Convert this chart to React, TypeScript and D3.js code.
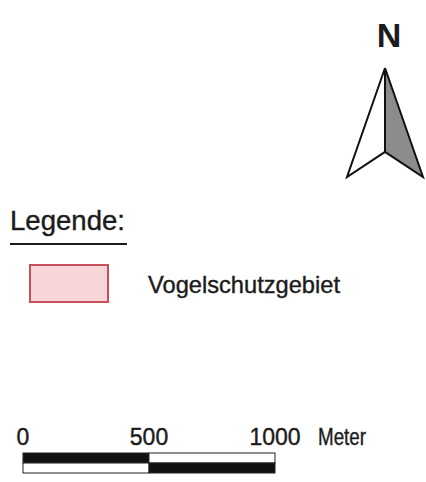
import { useEffect, useRef } from "react";
import * as d3 from "d3";

const LEGEND_TITLE = "Legende:";
const LEGEND_ITEMS = ["Vogelschutzgebiet"];
const LEGEND_FILLS = ["#f6d6d9"];
const LEGEND_STROKES = ["#c9505a"];
const SCALE_TICKS = [0, 500, 1000];
const SCALE_UNIT = "Meter";
const NORTH_LABEL = "N";

const FONT = "'Liberation Sans', Arial, sans-serif";
const INK = "#1c1c1c";

export default function App() {
  const ref = useRef<SVGSVGElement>(null);

  useEffect(() => {
    if (!ref.current) return;
    const w = 426;
    const h = 482;
    const svg = d3.select(ref.current);
    svg.selectAll("*").remove();
    svg.attr("width", w).attr("height", h).attr("viewBox", `0 0 ${w} ${h}`);
    svg.append("rect").attr("width", w).attr("height", h).attr("fill", "#fff");

    const txt = (x: number, y: number, size: number, s: string) =>
      svg
        .append("text")
        .attr("x", x)
        .attr("y", y)
        .attr("font-family", FONT)
        .attr("font-size", size)
        .attr("fill", INK)
        .attr("stroke", INK)
        .attr("stroke-width", 0.4)
        .text(s);

    // north arrow, unit shape mapped onto the page by two scales
    const ax = d3.scaleLinear().domain([-1, 1]).range([347, 423]);
    const ay = d3.scaleLinear().domain([0, 1]).range([68, 177]);
    const line = d3
      .line<[number, number]>()
      .x((d) => ax(d[0]))
      .y((d) => ay(d[1]));
    const leftHalf: [number, number][] = [[0, 0], [-1, 1], [0, 0.77], [0, 0]];
    const rightHalf: [number, number][] = [[0, 0], [0, 0.77], [1, 1], [0, 0]];
    svg.append("path").attr("d", line(leftHalf)!).attr("fill", "#fff").attr("stroke", "#111").attr("stroke-width", 2);
    svg.append("path").attr("d", line(rightHalf)!).attr("fill", "#8c8c8c").attr("stroke", "#111").attr("stroke-width", 2);
    txt(ax(0) + 4, 47, 34, NORTH_LABEL).attr("text-anchor", "middle").attr("font-weight", "bold").attr("stroke-width", 0);

    // legend
    txt(10, 230, 28, LEGEND_TITLE).attr("textLength", 115).attr("lengthAdjust", "spacingAndGlyphs");
    svg.append("line").attr("x1", 10).attr("x2", 127).attr("y1", 244).attr("y2", 244).attr("stroke", INK).attr("stroke-width", 2);

    const ly = d3.scaleBand().domain(LEGEND_ITEMS).range([265, 302]);
    LEGEND_ITEMS.forEach((item, i) => {
      const y0 = ly(item)!;
      svg
        .append("rect")
        .attr("x", 30)
        .attr("y", y0)
        .attr("width", 78)
        .attr("height", ly.bandwidth())
        .attr("fill", LEGEND_FILLS[i])
        .attr("stroke", LEGEND_STROKES[i])
        .attr("stroke-width", 2);
      txt(148, y0 + ly.bandwidth() / 2 + 9.5, 24, item).attr("textLength", 192).attr("lengthAdjust", "spacingAndGlyphs");
    });

    // scale bar
    const sx = d3.scaleLinear().domain([SCALE_TICKS[0], SCALE_TICKS[SCALE_TICKS.length - 1]]).range([23, 275]);
    const barTop = 453;
    const barH = 10;
    d3.pairs(SCALE_TICKS).forEach(([a, b], i) => {
      [0, 1].forEach((row) => {
        const black = (i + row) % 2 === 0;
        svg
          .append("rect")
          .attr("x", sx(a))
          .attr("y", barTop + row * barH)
          .attr("width", sx(b) - sx(a))
          .attr("height", barH)
          .attr("fill", black ? "#111" : "#fff")
          .attr("stroke", "#222")
          .attr("stroke-width", 1);
      });
    });
    SCALE_TICKS.forEach((t) => {
      txt(sx(t), 445, 23, String(t)).attr("text-anchor", "middle");
    });
    txt(318, 445, 23, SCALE_UNIT).attr("textLength", 48).attr("lengthAdjust", "spacingAndGlyphs");
  }, []);

  return <svg ref={ref} style={{ position: "absolute", left: 0, top: 0, display: "block" }} />;
}
